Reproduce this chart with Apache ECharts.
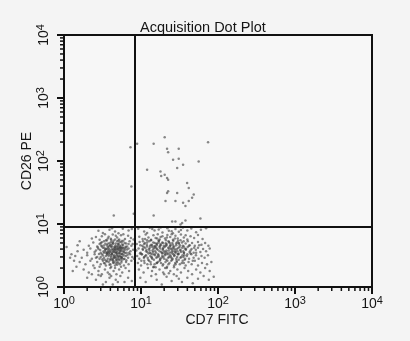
<!DOCTYPE html>
<html><head><meta charset="utf-8">
<script src="https://cdn.jsdelivr.net/npm/echarts@6/dist/echarts.min.js"></script>
<style>html,body{margin:0;padding:0;background:#f4f4f4;}#c{width:410px;height:341px;}</style>
</head><body><div id="c"></div>
<script>
const chartTitle = 'Acquisition Dot Plot';
const xAxisName = 'CD7 FITC';
const yAxisName = 'CD26 PE';
const axisMin = 1, axisMax = 10000;
const majorTickValues = [1, 10, 100, 1000, 10000];
const decadeStarts = [1, 10, 100, 1000];
const minorMultipliers = [2, 3, 4, 5, 6, 7, 8, 9];
const quadrantX = 8.4;   // CD7 FITC gate
const quadrantY = 9.2;   // CD26 PE gate

// CD7- CD26- population (lower-left quadrant)
const lowerLeftCells = [
[3.9,8.1],[4.6,7.6],[5.8,8.4],[3.2,7.2],[6.9,7.9],[4.2,8.6],[5.1,7.1],[7.6,8.3],[2.8,7.8],
[3.1,6.4],[3.7,5.9],[4.3,6.8],[4.9,6.1],[5.5,6.6],[6.2,5.8],[2.6,6.2],[3.4,6.9],[4.1,5.6],[5.2,5.7],[6.8,6.5],[7.4,6.0],[2.3,5.9],[4.7,6.5],[3.8,6.3],[5.9,6.9],[8.0,5.7],[2.9,5.6],
[2.4,5.1],[2.9,4.8],[3.3,5.3],[3.6,4.6],[3.9,5.0],[4.2,4.4],[4.4,5.4],[4.7,4.9],[5.0,4.5],[5.3,5.2],[5.7,4.7],[6.1,5.0],[6.6,4.4],[7.1,5.3],[7.8,4.8],[2.1,4.5],[3.1,4.4],[3.5,5.5],[4.0,4.7],[4.5,4.3],[4.9,5.3],[5.4,4.4],[5.9,5.4],[6.4,4.9],[3.7,4.3],[4.3,5.1],[5.1,4.8],[5.6,5.1],[3.0,5.0],[2.7,4.4],[7.5,4.5],[6.9,4.8],
[1.8,3.9],[2.2,4.1],[2.5,3.6],[2.8,4.0],[3.0,3.5],[3.2,4.2],[3.4,3.8],[3.6,3.4],[3.8,4.1],[4.0,3.7],[4.2,3.5],[4.3,4.0],[4.5,3.8],[4.6,4.2],[4.8,3.6],[5.0,4.0],[5.2,3.5],[5.4,3.9],[5.7,4.2],[5.9,3.6],[6.2,3.9],[6.5,3.5],[6.9,4.1],[7.3,3.7],[7.9,3.9],[3.3,3.5],[3.9,3.9],[4.4,3.6],[4.9,4.1],[5.5,3.7],[6.0,4.1],[3.5,4.0],[4.1,4.3],[4.7,3.5],[5.3,4.2],[2.6,3.8],[2.0,3.5],[1.5,3.7],[7.0,3.5],[6.3,4.2],[3.7,3.6],[4.6,3.9],
[1.4,3.1],[1.7,2.9],[2.0,3.2],[2.3,2.8],[2.5,3.3],[2.7,3.0],[2.9,2.8],[3.1,3.3],[3.3,2.9],[3.5,3.1],[3.7,2.8],[3.9,3.3],[4.1,3.0],[4.3,2.7],[4.5,3.2],[4.7,2.9],[4.9,3.3],[5.1,2.8],[5.3,3.1],[5.6,2.9],[5.8,3.3],[6.1,2.8],[6.4,3.1],[6.8,2.9],[7.2,3.3],[7.7,3.0],[8.1,2.8],[3.0,3.0],[3.6,3.4],[4.0,2.8],[4.4,3.1],[4.8,2.7],[5.2,3.4],[5.5,3.0],[3.4,2.7],[2.6,2.9],[4.2,3.3],[4.6,3.0],[5.0,3.1],[3.8,3.1],
[1.6,2.5],[1.9,2.3],[2.2,2.6],[2.4,2.2],[2.7,2.5],[3.0,2.3],[3.2,2.6],[3.5,2.2],[3.8,2.5],[4.0,2.3],[4.3,2.6],[4.6,2.2],[4.9,2.5],[5.3,2.3],[5.6,2.6],[6.0,2.2],[6.4,2.5],[6.9,2.3],[7.5,2.6],[3.3,2.4],[4.1,2.1],[4.8,2.7],[2.9,2.1],[5.1,2.4],[3.6,2.6],[4.4,2.4],
[1.8,1.9],[2.1,1.7],[2.5,2.0],[2.8,1.8],[3.1,1.6],[3.4,1.9],[3.7,1.7],[4.0,2.0],[4.4,1.8],[4.8,1.6],[5.2,1.9],[5.7,1.7],[6.3,2.0],[7.0,1.8],[3.9,1.6],[4.6,2.0],[2.3,1.6],[5.5,2.1],
[2.0,1.4],[2.6,1.3],[3.0,1.5],[3.5,1.2],[3.9,1.4],[4.3,1.1],[4.7,1.3],[5.4,1.5],[6.1,1.2],[6.8,1.4],[3.2,1.1],[4.1,1.5],[5.0,1.2],[2.8,1.55],[7.6,1.25],
[1.08,4.3],[1.25,3.3],[1.35,2.6],[1.5,4.6],[1.45,2.1],[1.3,1.8],[1.6,5.3],[1.2,2.9],
[3.05,4.55],[3.25,3.65],[3.45,4.85],[3.65,3.25],[3.85,4.45],[4.05,3.15],[4.25,4.75],[4.45,2.95],[4.65,4.55],[4.85,3.45],[5.05,4.85],[5.25,3.05],[5.45,4.25],[5.65,3.35],[5.85,4.65],[6.05,3.15],[6.3,4.35],[2.95,3.85],[3.15,2.75],[3.35,4.15],[3.55,2.55],[3.75,3.75],[3.95,2.65],[4.15,3.95],[4.35,2.45],[4.55,3.55],[4.75,2.35],[4.95,3.75],[5.15,2.65],[5.35,3.65],[5.55,2.45],[5.75,3.85],[5.95,2.75],[6.2,3.45],[6.45,2.65],[3.1,5.15],[3.6,5.45],[4.1,5.25],[4.6,5.65],[5.1,5.45],[5.6,5.35],[3.4,2.35],[3.9,2.25],[4.4,2.85],[4.9,2.25],[5.4,2.75],[3.2,3.15],[3.7,4.85],[4.2,3.35],[4.7,4.35],[5.2,3.85],[5.7,3.05],[3.5,3.55],[4.0,4.55],[4.5,4.05],[5.0,2.95],[5.5,4.05],[6.0,3.65],[3.3,4.55],[3.8,3.45],[4.3,3.75],[4.8,3.15],[5.3,4.55],[5.8,4.25],[2.85,3.35],[2.75,4.25],[6.6,3.95],[6.7,3.25],[4.05,5.85],[4.55,2.55],[3.65,4.05],[4.95,4.35],[5.45,3.35],[3.95,3.55],[4.35,4.95],[4.75,3.95],[5.15,4.15],[3.45,3.95],[4.15,2.75],[5.65,2.85]
];

// CD7+ CD26- population (lower-right quadrant)
const lowerRightCells = [
[9.2,8.4],[11,7.6],[13,8.7],[15,7.9],[17,8.2],[19,7.3],[22,8.6],[25,7.7],[28,8.3],[31,7.5],[35,8.8],[40,7.9],[45,8.5],[52,7.4],[60,8.1],[12,7.2],[18,8.8],[26,7.1],[33,8.0],[70,8.6],[14,8.3],[23,7.8],
[9.5,6.3],[10.5,5.8],[11.5,6.8],[12.5,6.1],[13.5,5.6],[14.5,6.6],[15.5,6.0],[16.5,6.9],[17.5,5.7],[19,6.4],[20.5,5.9],[22,6.7],[24,6.2],[26,5.6],[28,6.5],[30,5.9],[33,6.8],[36,6.1],[40,5.7],[44,6.4],[49,6.0],[55,6.7],[63,5.8],[12,5.5],[18,6.2],[25,6.9],[38,6.6],
[8.8,4.8],[9.6,5.2],[10.4,4.5],[11.2,5.0],[12,4.4],[12.8,5.3],[13.6,4.7],[14.4,5.1],[15.3,4.4],[16.2,4.9],[17.1,5.4],[18.1,4.6],[19.2,5.0],[20.3,4.3],[21.5,4.8],[22.8,5.3],[24.1,4.5],[25.5,5.0],[27,4.4],[28.6,4.9],[30.3,5.4],[32,4.6],[34,5.1],[36,4.4],[38,4.9],[40.5,5.3],[43,4.6],[46,5.0],[50,4.5],[55,5.2],[61,4.7],[68,5.0],[75,4.5],[11,4.8],[14,4.3],[17,5.1],[21,4.5],[26,4.7],[31,5.0],[16,4.6],[23,5.2],
[8.7,3.8],[9.3,4.1],[9.9,3.5],[10.6,3.9],[11.3,4.2],[12,3.6],[12.7,4.0],[13.4,3.4],[14.1,3.8],[14.9,4.2],[15.7,3.5],[16.5,3.9],[17.4,4.3],[18.3,3.6],[19.3,4.0],[20.3,3.4],[21.4,3.8],[22.5,4.2],[23.7,3.5],[25,3.9],[26.3,4.3],[27.7,3.6],[29.2,4.0],[30.8,3.4],[32.5,3.8],[34.3,4.2],[36.2,3.5],[38.2,3.9],[40.4,4.3],[42.8,3.6],[45.4,4.0],[48.3,3.5],[51.5,3.9],[55,4.2],[59,3.6],[64,4.0],[70,3.7],[78,4.1],[11.8,3.9],[13,4.2],[15.2,3.7],[17.8,4.1],[20,3.7],[22,3.5],[24.5,4.1],[28,3.8],[33,3.6],[37,4.1],[44,3.8],[19,3.5],[26,3.7],[16,4.0],
[8.9,3.1],[9.5,2.8],[10.2,3.3],[10.9,2.9],[11.6,3.2],[12.4,2.7],[13.2,3.1],[14,2.8],[14.9,3.3],[15.8,2.9],[16.8,3.2],[17.8,2.7],[18.9,3.1],[20,2.8],[21.2,3.3],[22.5,2.9],[23.9,3.2],[25.4,2.7],[27,3.1],[28.7,2.8],[30.5,3.3],[32.5,2.9],[34.6,3.2],[36.9,2.7],[39.4,3.1],[42.1,2.8],[45,3.3],[48.2,2.9],[51.7,3.2],[56,2.8],[61,3.1],[67,2.9],[74,3.2],[13.7,3.0],[16.3,3.0],[19.5,3.0],[23.2,3.0],[29.5,3.0],[11,3.0],[26.5,3.3],[35.5,3.0],
[9.1,2.4],[10,2.2],[11,2.6],[12.1,2.3],[13.3,2.5],[14.6,2.1],[16,2.4],[17.5,2.6],[19.1,2.2],[20.8,2.5],[22.7,2.3],[24.7,2.6],[26.9,2.2],[29.3,2.5],[31.9,2.3],[34.8,2.6],[38,2.2],[41.5,2.5],[45.5,2.3],[50,2.6],[55,2.2],[62,2.4],[72,2.3],[82,2.5],[15,2.3],[18.2,2.4],[21.8,2.1],[27.8,2.4],[36,2.4],
[9.4,1.9],[10.8,1.7],[12.3,2.0],[13.9,1.8],[15.6,1.6],[17.4,1.9],[19.4,1.7],[21.6,2.0],[24,1.8],[26.7,1.6],[29.7,1.9],[33,1.7],[36.7,2.0],[41,1.8],[46,1.6],[52,1.9],[59,1.7],[68,2.0],[78,1.8],[14.5,2.05],[23,1.65],
[9.8,1.4],[11.5,1.2],[13.6,1.5],[16,1.3],[18.6,1.1],[21.5,1.45],[25,1.25],[29,1.5],[34,1.2],[40,1.4],[47,1.15],[55,1.35],[65,1.5],[76,1.3],[88,1.45],[20,1.6],[31,1.35],
[9.8,4.6],[10.3,3.3],[10.8,4.3],[11.4,3.1],[11.9,4.7],[12.5,3.4],[13.1,4.5],[13.8,2.9],[14.5,4.0],[15.2,3.2],[15.9,4.8],[16.7,3.3],[17.6,4.5],[18.5,2.9],[19.4,4.2],[20.4,3.2],[21.4,4.6],[22.5,3.3],[23.6,4.4],[24.8,2.9],[26.0,4.1],[27.3,3.2],[28.7,4.6],[30.1,3.3],[31.6,4.3],[33.2,3.0],[34.9,4.5],[36.6,3.2],[38.4,4.0],[10.1,2.6],[11.1,2.4],[12.2,2.9],[13.4,2.3],[14.7,2.7],[16.1,2.4],[17.7,2.8],[19.4,2.3],[21.3,2.7],[23.4,2.4],[25.7,2.8],[28.2,2.3],[30.9,2.7],[33.9,2.4],[10.6,5.3],[12.0,5.1],[13.5,5.5],[15.1,5.0],[16.9,5.4],[18.9,5.1],[21.1,5.5],[23.6,5.0],[26.3,5.4],[29.3,5.1],[32.6,5.5],[11.6,3.7],[12.9,3.8],[14.3,3.6],[15.8,4.2],[17.4,3.7],[19.1,3.9],[20.9,3.6],[22.9,3.8],[25.0,3.6],[27.3,4.0],[29.8,3.7],[32.5,3.9],[35.4,3.7],[10.5,4.0],[13.9,4.6],[18.0,4.8],[24.2,4.7],[31.0,4.9],[14.1,3.3],[18.8,3.4],[25.5,3.4],[12.7,2.6],[16.6,2.5],[22.0,2.6],[29.0,2.6],[37.5,2.8],[44,3.4],[42,4.5],[47,2.6],[52,3.5],[57,4.6],[11.3,5.8],[16.2,5.9],[21.7,6.1],[27.5,5.9],[15.5,2.05],[20.6,2.0],[26.8,2.05],[9.7,3.4],[35.8,5.3],[40,3.3],[49,4.2],[19.8,4.5],[23.2,4.1],[13.0,3.5],[17.0,3.05],[28.3,3.5],[24.3,3.05],[15.0,4.45],[20.9,4.95],[30.5,4.15],[36.0,3.45]
];

// sparse events above the CD26 gate and near the gate lines
const scatteredCells = [
[8.9,188],[7.3,166],[7.5,39.5],[8.05,14.6],[4.43,13.7],[14.6,188],[20.3,239],[74.3,199],
[21.8,157],[30.9,157],[22.5,138],[26.1,105],[30.9,109],[56.1,98.6],[35.2,87.4],[29.5,77.1],
[12.0,72.8],[17.9,68.4],[20.3,60.6],[18.3,57.6],[21.8,53.5],[22.5,50.5],[39.7,44.7],[41.7,37.2],
[22.5,33.0],[21.8,31.0],[29.5,31.0],[48.4,29.5],[46.1,26.2],[20.8,23.1],[28.0,23.1],[41.7,23.1],
[35.2,21.8],[37.8,19.3],[14.6,13.7],[59.1,12.2],[37.8,11.4],[25.4,11.0],[28.0,11.0],[34.2,10.4],[32.6,9.8]
];

const minorTickValues = [];
decadeStarts.forEach(d => minorMultipliers.forEach(m => minorTickValues.push(d * m)));

const fontFam = '"Liberation Sans", Arial, Helvetica, sans-serif';
const ink = '#151515';
const powLabel = v => '{b|10}{s|' + Math.round(Math.log10(v)) + '}';
const rich = {
  b: {fontSize: 14, color: ink, fontFamily: fontFam},
  s: {fontSize: 11, color: ink, fontFamily: fontFam, verticalAlign: 'bottom', padding: [0,0,7,0]}
};

// minor tick marks placed through the axes' own scales (api.coord)
function tickSeries(values, len, width) {
  return {
    type: 'custom', clip: false, z: 10,
    data: values.map(v => [v, v]),
    renderItem: (params, api) => {
      const v = api.value(0);
      const b = api.coord([v, axisMin]);
      const l = api.coord([axisMin, v]);
      return {type: 'group', children: [
        {type: 'line', shape: {x1: b[0], y1: b[1], x2: b[0], y2: b[1] + len}, style: {stroke: '#111', lineWidth: width}},
        {type: 'line', shape: {x1: l[0], y1: l[1], x2: l[0] - len, y2: l[1]}, style: {stroke: '#111', lineWidth: width}}
      ]};
    }
  };
}

const chart = echarts.init(document.getElementById('c'));
const dotStyle = {color: 'rgba(58,58,58,0.75)'};
const axisCommon = {
  type: 'log', min: axisMin, max: axisMax,
  axisLine: {show: true, lineStyle: {color: '#111', width: 2}},
  axisTick: {show: true, length: 7, lineStyle: {color: '#111', width: 2}},
  splitLine: {show: false}
};
chart.setOption({
  animation: false,
  backgroundColor: '#f4f4f4',
  title: {text: chartTitle, left: 135, top: 15,
    textStyle: {fontSize: 14.5, fontWeight: 'normal', color: ink, fontFamily: fontFam}},
  grid: {left: 64, right: 38, top: 35, bottom: 54, show: true,
    backgroundColor: '#f7f7f7', borderColor: '#111', borderWidth: 2},
  graphic: [
    {type: 'text', x: 217, y: 320, silent: true,
      style: {text: xAxisName, fontSize: 14, fill: ink, fontFamily: fontFam, align: 'center', verticalAlign: 'middle'}},
    {type: 'text', x: 27, y: 161, rotation: Math.PI / 2, silent: true,
      style: {text: yAxisName, fontSize: 14, fill: ink, fontFamily: fontFam, align: 'center', verticalAlign: 'middle'}}
  ],
  xAxis: Object.assign({}, axisCommon, {axisLabel: {formatter: powLabel, rich: rich, margin: 8}}),
  yAxis: Object.assign({}, axisCommon, {axisLabel: {formatter: powLabel, rich: rich, rotate: 90, margin: 11}}),
  series: [
    {type: 'scatter', symbol: 'circle', symbolSize: 2.5, itemStyle: dotStyle, data: lowerLeftCells, silent: true},
    {type: 'scatter', symbol: 'circle', symbolSize: 2.5, itemStyle: dotStyle, data: lowerRightCells, silent: true},
    {type: 'scatter', symbol: 'circle', symbolSize: 2.5, itemStyle: dotStyle, data: scatteredCells, silent: true,
      markLine: {silent: true, symbol: 'none', label: {show: false},
        lineStyle: {color: '#111', width: 2, type: 'solid'},
        data: [{xAxis: quadrantX}, {yAxis: quadrantY}]}},
    tickSeries(minorTickValues, 4, 1.5)
  ]
});
</script></body></html>
